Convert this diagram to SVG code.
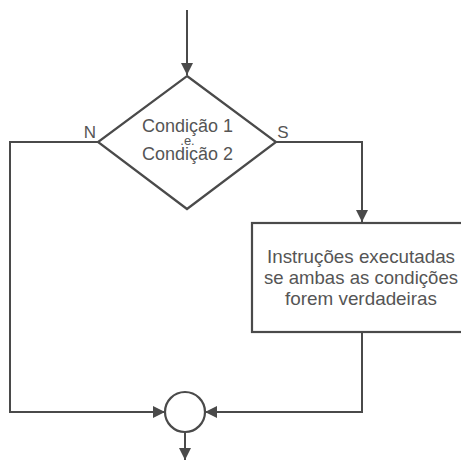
<svg xmlns="http://www.w3.org/2000/svg" width="461" height="461" viewBox="0 0 461 461">
<style>
.ln{fill:none;stroke:#4a4a4a;stroke-width:2}
.sh{fill:#fff;stroke:#4a4a4a;stroke-width:2.2}
.t{font-family:"Liberation Sans",Arial,sans-serif;fill:#555;text-anchor:middle}
</style>
<defs>
<marker id="a" viewBox="0 0 12 12" refX="12" refY="6" markerWidth="12" markerHeight="12" orient="auto" markerUnits="userSpaceOnUse">
<path d="M0,0 L12,6 L0,12 z" fill="#4a4a4a"/>
</marker>
</defs>
<rect width="461" height="461" fill="#fff"/>
<g id="connectors">
<path class="ln" d="M187,10 V75" marker-end="url(#a)"/>
<path class="ln" d="M98,142 H10 V412 H165" marker-end="url(#a)"/>
<path class="ln" d="M276,142 H362 V222" marker-end="url(#a)"/>
<path class="ln" d="M362,332 V412 H205" marker-end="url(#a)"/>
<path class="ln" d="M185,432 V460" marker-end="url(#a)"/>
</g>
<g id="decision">
<polygon class="sh" points="187,76 276,142 187,209 98,142"/>
<text class="t" x="187.5" y="132" font-size="18" textLength="91" lengthAdjust="spacingAndGlyphs">Condição 1</text>
<text class="t" x="187.5" y="145" font-size="13">.e.</text>
<text class="t" x="187.5" y="160" font-size="18" textLength="91" lengthAdjust="spacingAndGlyphs">Condição 2</text>
</g>
<g id="labelN"><text class="t" x="90" y="138" font-size="17">N</text></g>
<g id="labelS"><text class="t" x="283" y="138" font-size="17">S</text></g>
<g id="process">
<rect class="sh" x="252" y="223" width="215" height="109"/>
<text class="t" x="361" y="263" font-size="18.5" textLength="188" lengthAdjust="spacingAndGlyphs">Instruções executadas</text>
<text class="t" x="361" y="284" font-size="18.5" textLength="194" lengthAdjust="spacingAndGlyphs">se ambas as condições</text>
<text class="t" x="361" y="305" font-size="18.5" textLength="152" lengthAdjust="spacingAndGlyphs">forem verdadeiras</text>
</g>
<g id="junction">
<circle class="sh" cx="185" cy="412" r="20"/>
</g>
</svg>
